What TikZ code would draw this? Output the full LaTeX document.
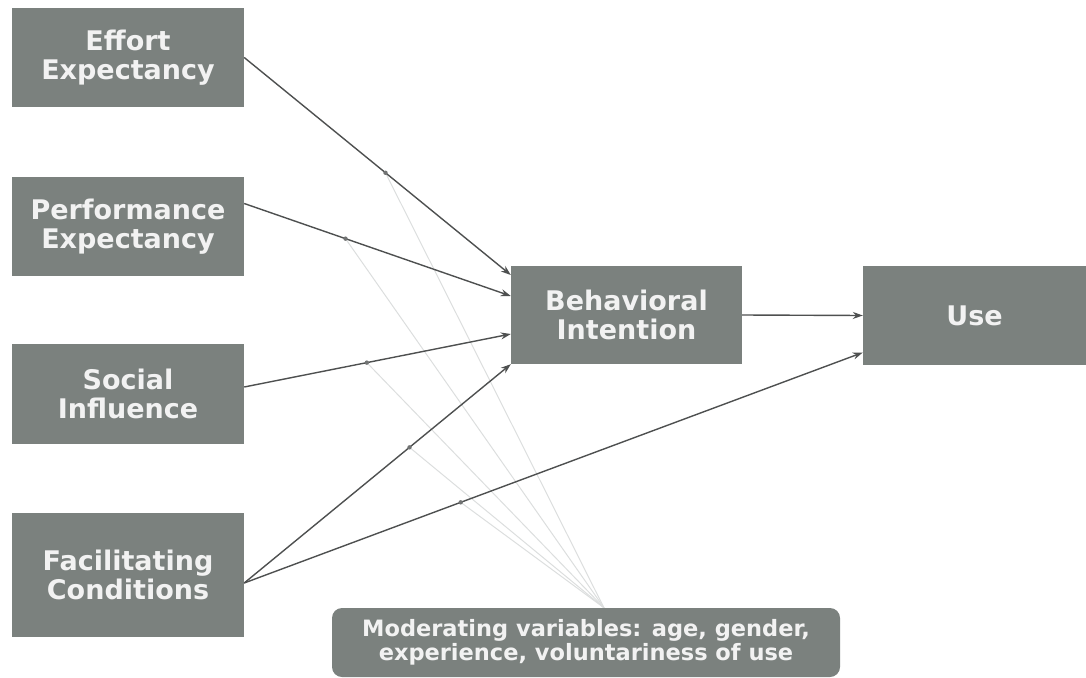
\documentclass[tikz,border=0pt]{standalone}
\usepackage{fontspec}
\setmainfont{DejaVu Sans}
\usetikzlibrary{arrows.meta,backgrounds}
\definecolor{boxgrey}{RGB}{123,129,126}
\definecolor{linegrey}{RGB}{78,80,80}
\definecolor{faintgrey}{RGB}{220,222,222}
\begin{document}
\begin{tikzpicture}[x=1pt,y=-1pt,line join=round,
    factor/.style={fill=boxgrey,text=white!95!black,align=center,inner sep=0pt,
      font=\bfseries\fontsize{27}{29}\selectfont,
      minimum width=232pt,minimum height=99pt},
    link/.style={linegrey,line width=1.4pt,-{Stealth[length=10pt,width=7pt]}},
    modline/.style={faintgrey,line width=1pt}]
  \useasboundingbox (0,0) rectangle (1086,677);
  % determinants
  \node[factor] (EE) at (128,57.5) {Effort\\Expectancy};
  \node[factor] (PE) at (128,226.5) {Performance\\Expectancy};
  \node[factor,minimum height=100pt] (SI) at (128,394) {Social\\Influence};
  \node[factor,minimum height=124pt] (FC) at (128,575) {Facilitating\\Conditions};
  % outcomes
  \node[factor,minimum width=231pt,minimum height=98pt] (BI) at (626.5,315) {Behavioral\\Intention};
  \node[factor,minimum width=223pt,minimum height=99pt] (U) at (974.5,315.5) {Use};
  \node[factor,rounded corners=10pt,minimum width=508pt,minimum height=69pt,
    font=\bfseries\fontsize{22.5}{24}\selectfont] (MV) at (586,642.5)
    {Moderating variables: age, gender,\\experience, voluntariness of use};
  \draw[link] (EE.east) -- coordinate[pos=.53] (m1) ([yshift=40pt]BI.west);
  \draw[link] ([yshift=23pt]PE.east) -- coordinate[pos=.38] (m2) ([yshift=19pt]BI.west);
  \draw[link] ([yshift=7pt]SI.east) -- coordinate[pos=.46] (m3) ([yshift=-19pt]BI.west);
  \draw[link] ([yshift=-8pt]FC.east) -- coordinate[pos=.62] (m4) (BI.south west);
  \draw[link] ([yshift=-8pt]FC.east) -- coordinate[pos=.35] (m5) ([yshift=-37pt]U.west);
  \draw[link] (BI.east) -- (U.west);
  % moderators
  \coordinate (mv) at ([xshift=18pt]MV.north);
  \begin{scope}[on background layer]
    \foreach \m in {m1,m2,m3,m4,m5}
      \draw[modline] (mv) -- (\m);
  \end{scope}
  \foreach \m in {m1,m2,m3,m4,m5}
    \fill[linegrey!80] (\m) circle (2.2);
\end{tikzpicture}
\end{document}
